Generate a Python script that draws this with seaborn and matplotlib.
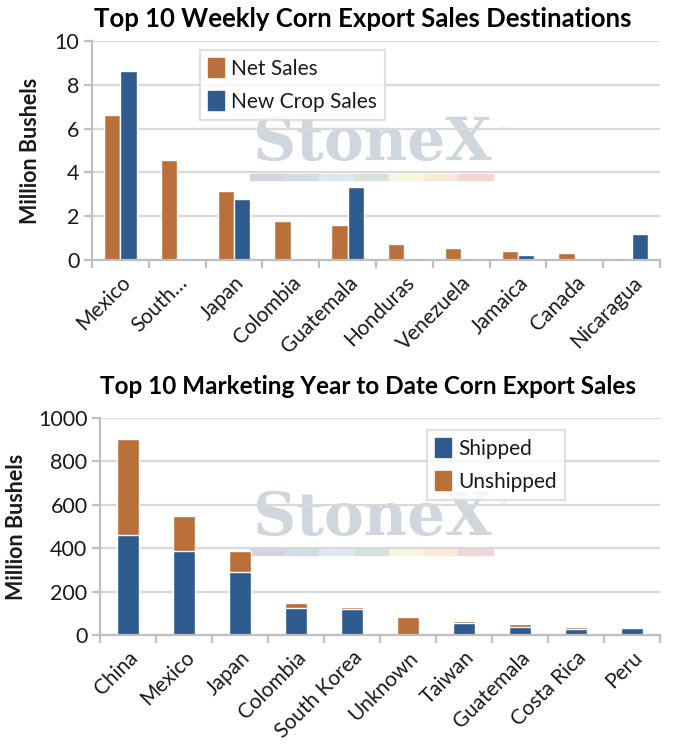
import matplotlib
matplotlib.use("Agg")
import matplotlib.pyplot as plt
import matplotlib.patches as mpatches
import seaborn as sns
import pandas as pd
import numpy as np

# ---- data ----
weekly_countries = ["Mexico", "South…", "Japan", "Colombia", "Guatemala",
                    "Honduras", "Venezuela", "Jamaica", "Canada", "Nicaragua"]
net_sales = [6.63, 4.58, 3.17, 1.79, 1.59, 0.75, 0.57, 0.40, 0.31, 0.06]
new_crop_sales = [8.65, 0.0, 2.77, 0.0, 3.32, 0.0, 0.0, 0.25, 0.0, 1.21]

myd_countries = ["China", "Mexico", "Japan", "Colombia", "South Korea",
                 "Unknown", "Taiwan", "Guatemala", "Costa Rica", "Peru"]
shipped = [461, 385, 292, 124, 122, 0, 55, 35, 26, 31]
unshipped = [441, 163, 96, 24, 8, 85, 8, 17, 9, 0]

ORANGE = "#B9703A"
BLUE = "#2F5A8E"
GRID = "#D9D9D9"
TXT = "#1a1a1a"

sns.set_theme(style="white")
plt.rcParams["font.family"] = ["Lato", "DejaVu Sans"]

fig = plt.figure(figsize=(6.86, 7.45), dpi=100)
fig.patch.set_facecolor("white")
W, H = 686, 745

def ax_rect(x0, y0, x1, y1):
    return [x0 / W, 1 - y1 / H, (x1 - x0) / W, (y1 - y0) / H]

ax1 = fig.add_axes(ax_rect(92, 41, 660, 260))
ax2 = fig.add_axes(ax_rect(100, 418, 660, 635))
for a in (ax1, ax2):
    a.patch.set_alpha(0)

# ---- top chart ----
df1 = pd.DataFrame({
    "Country": weekly_countries * 2,
    "Value": net_sales + new_crop_sales,
    "Series": ["Net Sales"] * 10 + ["New Crop Sales"] * 10,
})
sns.barplot(data=df1, x="Country", y="Value", hue="Series",
            palette=[ORANGE, BLUE], width=0.58, ax=ax1, saturation=1,
            order=weekly_countries, legend=True)

# ---- bottom chart (stacked) ----
totals = [s + u for s, u in zip(shipped, unshipped)]
df2 = pd.DataFrame({"Country": myd_countries, "Total": totals, "Shipped": shipped})
sns.barplot(data=df2, x="Country", y="Total", color=ORANGE, width=0.41,
            ax=ax2, saturation=1, order=myd_countries)
sns.barplot(data=df2, x="Country", y="Shipped", color=BLUE, width=0.41,
            ax=ax2, saturation=1, order=myd_countries)

def style_axes(ax, ymax, step, labels):
    ax.set_ylim(0, ymax)
    ax.set_xlim(-0.5, len(labels) - 0.5)
    ax.set_yticks(np.arange(0, ymax + step / 2, step))
    ax.yaxis.grid(True, color=GRID, linewidth=1.6)
    ax.set_axisbelow(True)
    for s in ["top", "right"]:
        ax.spines[s].set_visible(False)
    for s in ["left", "bottom"]:
        ax.spines[s].set_color("#BFBFBF")
        ax.spines[s].set_linewidth(1.6)
    ax.tick_params(axis="y", which="major", length=6, width=1.6, color="#BFBFBF",
                   labelsize=15.5, pad=3, labelcolor=TXT, left=True, direction="out")
    ax.set_xticks(range(len(labels)))
    ax.set_xticklabels(labels, rotation=45, ha="right", rotation_mode="anchor",
                       fontsize=15, color=TXT)
    ax.tick_params(axis="x", which="major", length=0, pad=9)
    ax.set_xticks(np.arange(-0.5, len(labels), 1.0), minor=True)
    ax.tick_params(axis="x", which="minor", length=6, width=1.6, color="#BFBFBF",
                   bottom=True, direction="out")
    ax.set_xlabel("")
    ax.set_ylabel("Million Bushels", fontsize=15.5, fontweight="bold", color=TXT)

style_axes(ax1, 10, 2, weekly_countries)
style_axes(ax2, 1000, 200, myd_countries)
ax1.yaxis.set_label_coords(-0.09, 0.5)
ax2.yaxis.set_label_coords(-0.13, 0.5)

fig.text(363 / W, 1 - 19 / H, "Top 10 Weekly Corn Export Sales Destinations",
         ha="center", va="center", fontsize=18.5, fontweight="bold", color="black")
fig.text(368 / W, 1 - 386 / H, "Top 10 Marketing Year to Date Corn Export Sales",
         ha="center", va="center", fontsize=17.5, fontweight="bold", color="black")

# ---- legends ----
def add_legend(ax, handles, x_frac, y_frac):
    leg = ax.legend(handles=handles, loc="upper left", bbox_to_anchor=(x_frac, y_frac),
                    frameon=True, fancybox=False, fontsize=15, handlelength=0.75,
                    handleheight=1.0, handletextpad=0.35, borderpad=0.4,
                    labelspacing=0.6, borderaxespad=0)
    leg.get_frame().set_edgecolor("#D9D9D9")
    leg.get_frame().set_linewidth(1.6)
    for t in leg.get_texts():
        t.set_color(TXT)
    return leg

add_legend(ax1, [mpatches.Patch(color=ORANGE, label="Net Sales"),
                 mpatches.Patch(color=BLUE, label="New Crop Sales")],
           (200 - 92) / 568, (260 - 50) / 219)
add_legend(ax2, [mpatches.Patch(color=BLUE, label="Shipped"),
                 mpatches.Patch(color=ORANGE, label="Unshipped")],
           (427 - 100) / 560, (635 - 430) / 217)

# ---- watermark (behind the axes) ----
strip_colors = ["#D1D6DE", "#D2DBE6", "#DDE9F1", "#D5E3D8", "#F6F6DE", "#F9EAD5", "#F2D7D8"]

def watermark(y_text, y_strip):
    fig.text(372 / W, 1 - y_text / H, "StoneX", ha="center", va="center",
             fontsize=43, fontweight="bold", family="DejaVu Serif",
             color="#D0D6DE", zorder=-5)
    fig.text(501 / W, 1 - (y_text - 14) / H, "™", ha="left", va="center",
             fontsize=5, color="#D8DDE3", zorder=-5)
    x0, x1 = 250, 493
    seg = (x1 - x0) / len(strip_colors)
    for i, c in enumerate(strip_colors):
        fig.patches.append(mpatches.Rectangle(((x0 + i * seg) / W, 1 - (y_strip + 3) / H),
                                              seg / W, 6 / H, transform=fig.transFigure,
                                              color=c, zorder=-5))

watermark(143, 177)
watermark(518, 552)

fig.savefig("out.png", dpi=100, facecolor="white")
